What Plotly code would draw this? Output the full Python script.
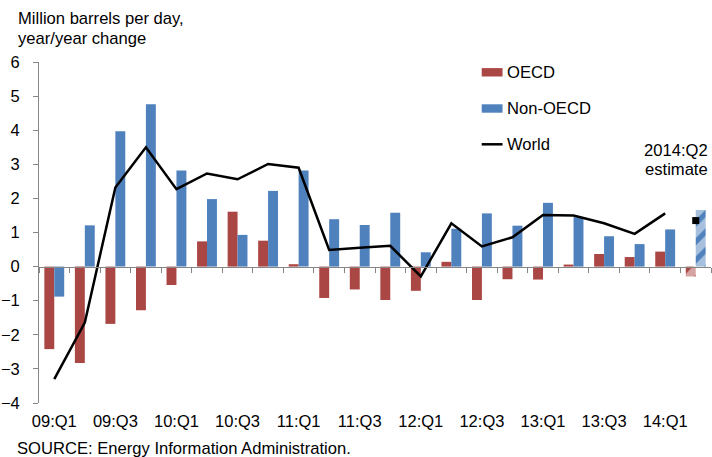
import plotly.graph_objects as go

# Quarterly year/year change in oil demand, million barrels per day
quarters = ["09:Q1", "09:Q2", "09:Q3", "09:Q4",
            "10:Q1", "10:Q2", "10:Q3", "10:Q4",
            "11:Q1", "11:Q2", "11:Q3", "11:Q4",
            "12:Q1", "12:Q2", "12:Q3", "12:Q4",
            "13:Q1", "13:Q2", "13:Q3", "13:Q4",
            "14:Q1", "14:Q2"]

oecd = [-2.42, -2.83, -1.68, -1.28, -0.54, 0.74, 1.61, 0.76,
        0.07, -0.92, -0.67, -0.98, -0.71, 0.14, -0.98, -0.37,
        -0.38, 0.06, 0.37, 0.28, 0.44, -0.29]

non_oecd = [-0.88, 1.21, 3.97, 4.76, 2.82, 1.98, 0.93, 2.22,
            2.82, 1.39, 1.22, 1.58, 0.42, 1.11, 1.56, 1.20,
            1.87, 1.45, 0.89, 0.66, 1.09, 1.66]

# World total through 14:Q1; 14:Q2 is an estimate shown as a single marker
world = [-3.30, -1.64, 2.32, 3.50, 2.27, 2.73, 2.56, 3.01,
         2.90, 0.49, 0.55, 0.61, -0.29, 1.27, 0.59, 0.86,
         1.51, 1.50, 1.27, 0.96, 1.56]
world_estimate = 1.35

tick_labels = quarters[::2][:11]

RED = "#AA4643"
BLUE = "#4F81BD"
GRAY = "#868686"
FONT = "Liberation Sans, Arial, sans-serif"
TEXT_SIZE = 16.6

W, H = 712, 457
M_L, M_R, M_T, M_B = 34, 1, 62, 54

x_idx = list(range(len(quarters)))
estimate_pattern = [""] * (len(quarters) - 1) + ["/"]


def px(x):
    return (x - M_L) / (W - M_L - M_R)


def py(y):
    return (H - M_B - y) / (H - M_T - M_B)


fig = go.Figure()

fig.add_trace(go.Bar(
    x=x_idx, y=oecd, name="OECD",
    marker=dict(color=RED, line=dict(width=0),
                pattern=dict(shape=estimate_pattern, size=13, solidity=0.6)),
    showlegend=False,
))
fig.add_trace(go.Bar(
    x=x_idx, y=non_oecd, name="Non-OECD",
    marker=dict(color=BLUE, line=dict(width=0),
                pattern=dict(shape=estimate_pattern, size=13, solidity=0.6)),
    showlegend=False,
))
fig.add_trace(go.Scatter(
    x=x_idx[:len(world)], y=world, name="World", mode="lines",
    line=dict(color="black", width=2.5),
    xaxis="x2", yaxis="y", showlegend=False,
))
fig.add_trace(go.Scatter(
    x=[x_idx[-1]], y=[world_estimate], mode="markers",
    marker=dict(symbol="square", size=7, color="black"),
    xaxis="x2", yaxis="y", showlegend=False,
))

x_range = [-0.5, len(quarters) - 0.5]
y_range = [-4, 6]

fig.update_layout(
    width=W, height=H,
    margin=dict(l=M_L, r=M_R, t=M_T, b=M_B, pad=0),
    paper_bgcolor="white", plot_bgcolor="white",
    barmode="group", bargap=0.35, bargroupgap=0,
    font=dict(family=FONT, size=TEXT_SIZE, color="black"),
    xaxis=dict(
        range=x_range, tickmode="array",
        tickvals=x_idx[::2][:11], ticktext=tick_labels,
        showline=False, ticks="", showgrid=False, zeroline=False,
        tickfont=dict(size=16.5), ticklabelstandoff=6,
    ),
    xaxis2=dict(
        range=x_range, overlaying="x", anchor="free",
        position=(0 - y_range[0]) / (y_range[1] - y_range[0]),
        tickmode="linear", tick0=-0.5, dtick=1,
        ticks="outside", ticklen=5, tickcolor=GRAY, tickwidth=1,
        showticklabels=False, showline=True, linecolor=GRAY, linewidth=1,
        showgrid=False, zeroline=False,
    ),
    yaxis=dict(
        range=y_range, dtick=1, showgrid=False, zeroline=False,
        showline=True, linecolor=GRAY, linewidth=1,
        ticks="outside", ticklen=5, tickcolor=GRAY, tickwidth=1,
        tickfont=dict(size=16.5), ticklabelstandoff=10,
    ),
)

# Legend keys
legend_items = [("OECD", RED, 72.3), ("Non-OECD", BLUE, 108.5)]
for label, color, yc in legend_items:
    fig.add_shape(type="rect", xref="paper", yref="paper",
                  x0=px(480), x1=px(501), y0=py(yc - 4.2), y1=py(yc + 4.2),
                  fillcolor=color, line=dict(width=0))
    fig.add_annotation(text=label, xref="paper", yref="paper",
                       x=px(503), y=py(yc), xanchor="left", yanchor="middle",
                       showarrow=False, font=dict(size=TEXT_SIZE))
fig.add_shape(type="line", xref="paper", yref="paper",
              x0=px(480), x1=px(501), y0=py(144.3), y1=py(144.3),
              line=dict(color="black", width=2.5))
fig.add_annotation(text="World", xref="paper", yref="paper",
                   x=px(503), y=py(144.3), xanchor="left", yanchor="middle",
                   showarrow=False, font=dict(size=TEXT_SIZE))

# Estimate note
fig.add_annotation(text="2014:Q2", xref="paper", yref="paper",
                   x=px(676), y=py(150), xanchor="center", yanchor="middle",
                   showarrow=False, font=dict(size=TEXT_SIZE))
fig.add_annotation(text="estimate", xref="paper", yref="paper",
                   x=px(676), y=py(169), xanchor="center", yanchor="middle",
                   showarrow=False, font=dict(size=TEXT_SIZE))

# Axis title and source
fig.add_annotation(text="Million barrels per day,", xref="paper", yref="paper",
                   x=px(11), y=py(19), xanchor="left", yanchor="middle",
                   showarrow=False, font=dict(size=TEXT_SIZE))
fig.add_annotation(text="year/year change", xref="paper", yref="paper",
                   x=px(11), y=py(38), xanchor="left", yanchor="middle",
                   showarrow=False, font=dict(size=TEXT_SIZE))
fig.add_annotation(text="SOURCE: Energy Information Administration.",
                   xref="paper", yref="paper",
                   x=px(10), y=py(448.5), xanchor="left", yanchor="middle",
                   showarrow=False, font=dict(size=TEXT_SIZE))

fig.write_html("out.html")
